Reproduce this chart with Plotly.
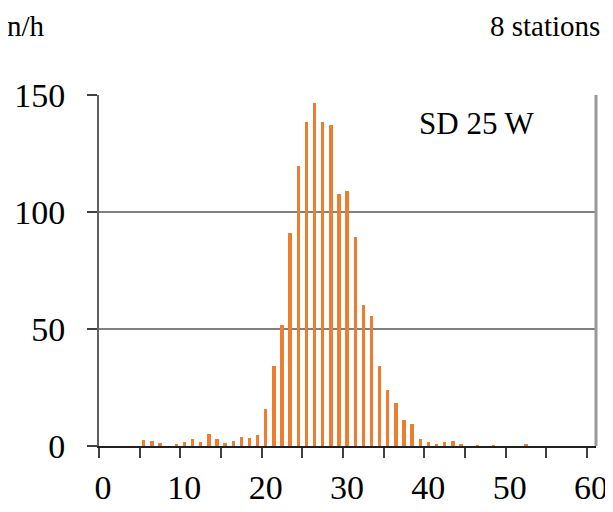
import plotly.graph_objects as go

# Histogram bins (lower edge) and counts per hour
bin_start = list(range(0, 61))
counts = [0, 0, 0, 0, 0, 2.7, 2.3, 1.1, 0, 0.5,
          1.9, 3.1, 1.6, 5.3, 3.1, 1.4, 2.0, 3.7, 3.4, 4.5,
          16.0, 34.0, 51.5, 91.2, 119.7, 138.5, 146.6, 138.5, 137.2, 107.8,
          109.1, 89.5, 60.3, 55.6, 34.2, 23.9, 18.5, 11.3, 9.4, 3.1,
          1.9, 0.9, 1.7, 2.3, 0.7, 0, 0.2, 0, 0.1, 0,
          0, 0, 0.9, 0, 0, 0, 0, 0, 0, 0, 0]
bin_centers = [b + 0.5 for b in bin_start]

x_tickvals = list(range(0, 61, 5))
x_ticktext = [str(v) if v % 10 == 0 else "" for v in x_tickvals]
y_tickvals = [0, 50, 100, 150]

FONT = "'Times New Roman', 'Liberation Serif', Tinos, 'DejaVu Serif', serif"

fig = go.Figure()
fig.add_trace(go.Bar(
    x=bin_centers, y=counts, width=0.42,
    marker=dict(color="#ED7D31", line=dict(width=0)),
    showlegend=False,
))

# page body has an 8px margin, so the figure is 8px smaller and margins shifted
fig.update_layout(
    width=605, height=504,
    margin=dict(l=91, r=17, t=87, b=66, autoexpand=False),
    paper_bgcolor="white", plot_bgcolor="white",
    font=dict(family=FONT, size=34, color="black"),
    bargap=0,
)

fig.update_xaxes(
    range=[0, 61.1],
    tickvals=x_tickvals, ticktext=x_ticktext,
    ticks="outside", ticklen=10, tickwidth=2, tickcolor="#404040",
    showline=True, linecolor="#202020", linewidth=2,
    showgrid=False, zeroline=False,
    tickfont=dict(family=FONT, size=34, color="black"),
    ticklabelshift=4,
)
fig.update_yaxes(
    range=[0, 150],
    tickvals=y_tickvals,
    ticks="outside", ticklen=10, tickwidth=2, tickcolor="#404040",
    showline=True, linecolor="#606060", linewidth=2,
    showgrid=True, gridcolor="#808080", gridwidth=2,
    zeroline=False,
    tickfont=dict(family=FONT, size=34, color="black"),
    ticklabelstandoff=15,
)

# right border of the plot frame
fig.add_shape(type="line", xref="paper", yref="paper",
              x0=1, x1=1, y0=0, y1=1,
              line=dict(color="#999999", width=3))

top_paper = 1 + 87 / 351  # top edge of the figure in paper units
fig.add_annotation(text="n/h", xref="paper", yref="paper",
                   x=(5 - 99) / 497, y=top_paper,
                   xanchor="left", yanchor="top", showarrow=False,
                   font=dict(family=FONT, size=29, color="black"))
fig.add_annotation(text="8 stations", xref="paper", yref="paper",
                   x=(602 - 99) / 497, y=top_paper,
                   xanchor="right", yanchor="top", showarrow=False,
                   font=dict(family=FONT, size=29, color="black"))
fig.add_annotation(text="SD 25 W", xref="paper", yref="paper",
                   x=(417 - 99) / 497, y=(446 - 124) / 351,
                   xanchor="left", yanchor="middle", showarrow=False,
                   font=dict(family=FONT, size=31, color="black"))

fig.write_html("out.html")
